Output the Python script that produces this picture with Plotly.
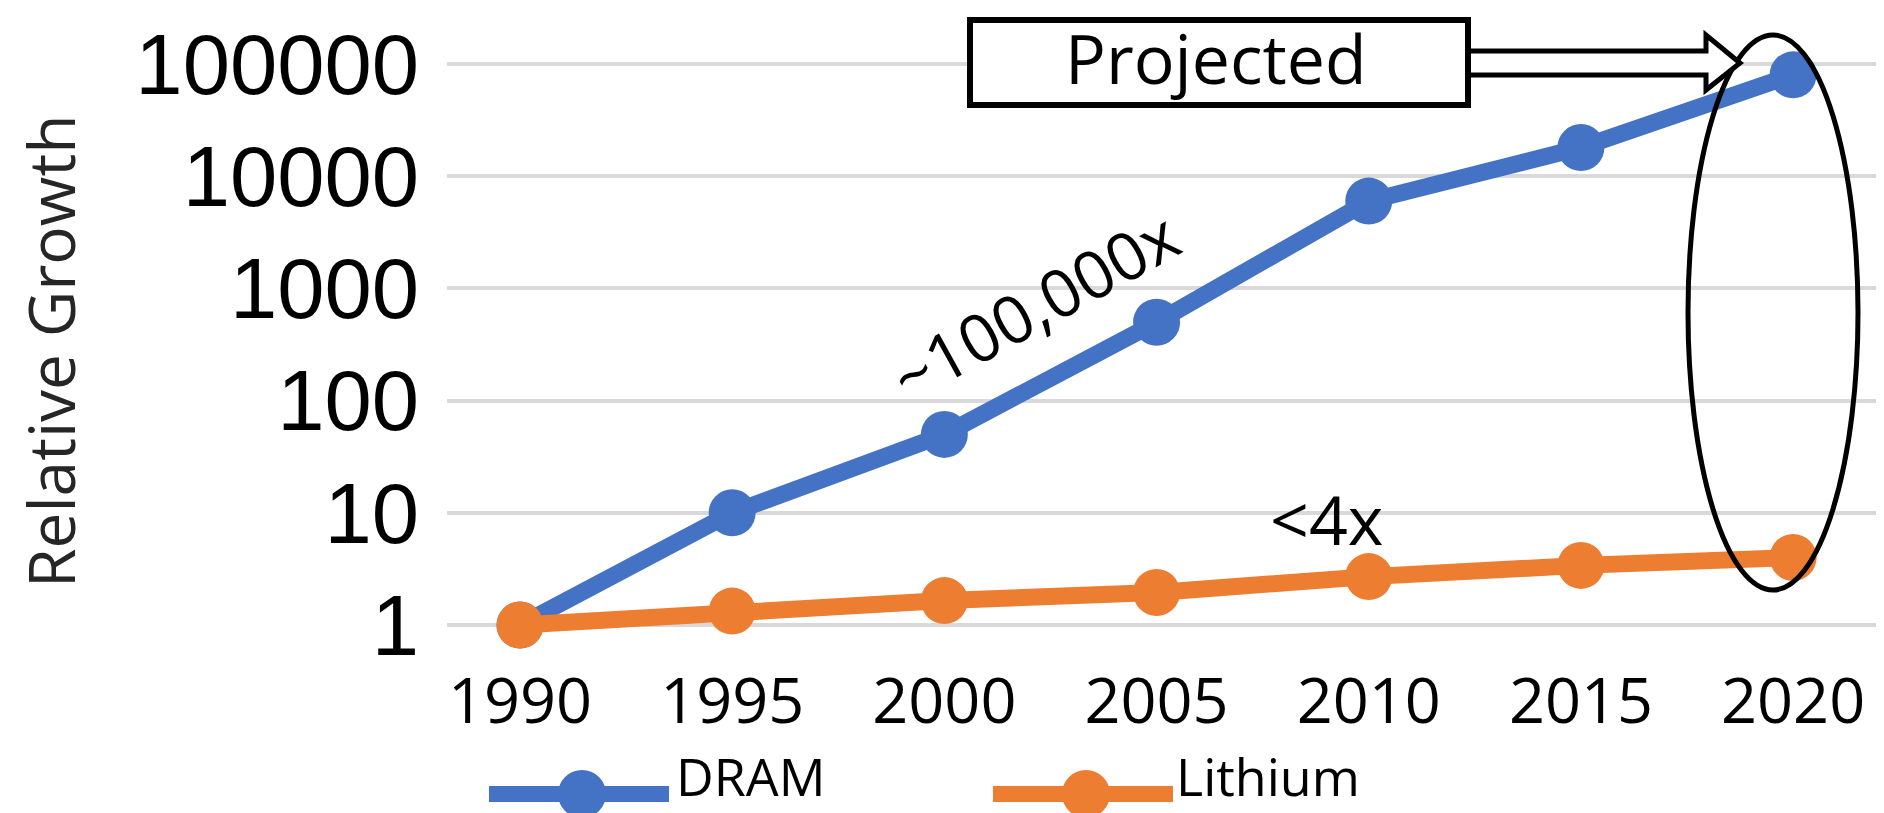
import plotly.graph_objects as go

years = [1990, 1995, 2000, 2005, 2010, 2015, 2020]
dram = [1, 10, 50, 500, 6000, 18000, 80000]
lithium = [1, 1.33, 1.65, 1.95, 2.7, 3.4, 4.0]
ytick_vals = [1, 10, 100, 1000, 10000, 100000]
ytick_text = ["1", "10", "100", "1000", "10000", "100000"]
series_names = ["DRAM", "Lithium"]
colors = ["#4472C4", "#ED7D31"]

W, H = 1884, 813
L, R, T, B = 439, 0, 0, 163
PW, PH = W - L - R, H - T - B


def px(x):
    return (x - L) / PW


def py(y):
    return (H - B - y) / PH


fig = go.Figure()
for name, vals, c in zip(series_names, [dram, lithium], colors):
    fig.add_trace(go.Scatter(
        x=years, y=vals, name=name, mode="lines+markers",
        line=dict(color=c, width=17),
        marker=dict(color=c, size=47),
        showlegend=False,
    ))

fig.update_layout(
    width=W, height=H,
    margin=dict(l=L, r=R, t=T, b=B, autoexpand=False),
    paper_bgcolor="white", plot_bgcolor="white",
    xaxis=dict(
        range=[1988.28, 2022.33], tickvals=years, ticktext=[str(y) for y in years],
        showgrid=False, zeroline=False, showline=False, ticks="",
        tickfont=dict(family="Open Sans", size=63, color="black"),
        ticklabelstandoff=1,
    ),
    yaxis=dict(
        type="log", range=[-0.294, 5.499], tickvals=ytick_vals, ticktext=ytick_text,
        showgrid=True, gridcolor="#D9D9D9", gridwidth=3.5, zeroline=False,
        showline=False, ticks="",
        tickfont=dict(family="Liberation Sans, Arial", size=85, color="black"),
        ticklabelstandoff=27,
    ),
)

shapes = []
# Ellipse around projected values
shapes.append(dict(type="circle", xref="paper", yref="paper",
                   x0=px(1680), x1=px(1850), y0=py(582), y1=py(27),
                   line=dict(color="black", width=5), fillcolor="rgba(0,0,0,0)",
                   layer="above"))
# Block arrow
pts = [(1460, 43), (1698, 43), (1698, 27), (1732, 55), (1698, 82), (1698, 67), (1460, 67)]
path = "M " + " L ".join(f"{px(a):.5f},{py(b):.5f}" for a, b in pts) + " Z"
shapes.append(dict(type="path", xref="paper", yref="paper", path=path,
                   line=dict(color="black", width=5), fillcolor="white", layer="above"))
# Projected box
shapes.append(dict(type="rect", xref="paper", yref="paper",
                   x0=px(962), x1=px(1460), y0=py(97), y1=py(12),
                   line=dict(color="black", width=6), fillcolor="white", layer="above"))

# Legend (manual)
LEG_Y = 786
legend_items = [(481, 667, 666), (985, 1171, 1166)]
for (lx0, lx1, tx), name, c in zip(legend_items, series_names, colors):
    shapes.append(dict(type="line", xref="paper", yref="paper",
                       x0=px(lx0), x1=px(lx1 - 6), y0=py(LEG_Y), y1=py(LEG_Y),
                       line=dict(color=c, width=16)))
    shapes.append(dict(type="circle", xref="paper", yref="paper",
                       x0=px((lx0 + lx1) / 2 - 24), x1=px((lx0 + lx1) / 2 + 24),
                       y0=py(LEG_Y + 24), y1=py(LEG_Y - 24),
                       line=dict(color=c, width=0), fillcolor=c))
fig.update_layout(shapes=shapes)

ann = []
ann.append(dict(text="Projected", xref="paper", yref="paper", x=px(1208), y=py(50),
                showarrow=False, font=dict(family="Open Sans", size=68, color="black"),
                xanchor="center", yanchor="middle"))
ann.append(dict(text="~100,000x", xref="paper", yref="paper", x=px(1026), y=py(297),
                showarrow=False, textangle=-29,
                font=dict(family="Open Sans", size=66, color="black"),
                xanchor="center", yanchor="middle"))
ann.append(dict(text="<4x", xref="paper", yref="paper", x=px(1318), y=py(510),
                showarrow=False, font=dict(family="Open Sans", size=68, color="black"),
                xanchor="center", yanchor="middle"))
ann.append(dict(text="Relative Growth", xref="paper", yref="paper", x=px(42), y=py(343),
                showarrow=False, textangle=-90,
                font=dict(family="Open Sans", size=64, color="#262626"),
                xanchor="center", yanchor="middle"))
for (lx0, lx1, tx), name in zip(legend_items, series_names):
    ann.append(dict(text=name, xref="paper", yref="paper", x=px(tx), y=py(767),
                    showarrow=False, font=dict(family="Open Sans", size=52, color="black"),
                    xanchor="left", yanchor="middle"))
fig.update_layout(annotations=ann)

fig.write_html("out.html")
